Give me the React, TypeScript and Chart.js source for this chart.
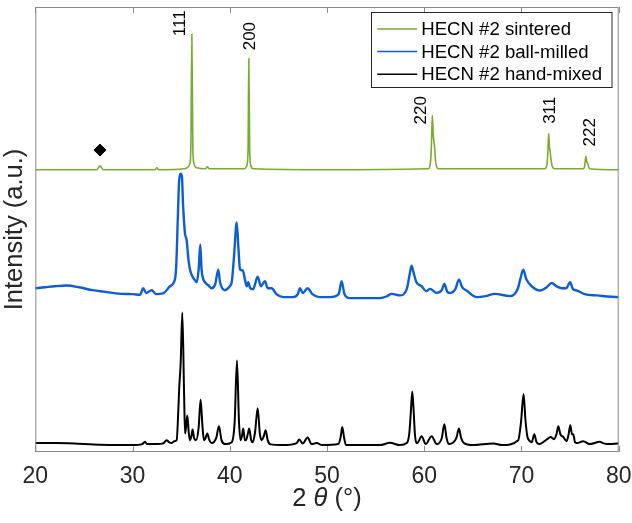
import React, { useEffect, useRef } from "react";
import { Chart, registerables } from "chart.js";

Chart.register(...registerables);

const FONT = "'Liberation Sans', Arial, Helvetica, sans-serif";

// Series labels and colours
const seriesLabels = ["HECN #2 sintered", "HECN #2 ball-milled", "HECN #2 hand-mixed"];
const seriesColors = ["#77ac30", "#0b5ed7", "#000000"];

// x tick values
const xTicks = [20, 30, 40, 50, 60, 70, 80];

// Sintered (offset already included)
const sinteredTheta = [20, 24, 26.3, 26.65, 27.0, 30, 32.3, 32.5, 32.7, 35.3, 35.6, 35.9, 36.0, 36.1, 36.2, 36.3, 36.6, 37.5, 37.7, 37.9, 41.5, 41.75, 41.88, 41.96, 42.05, 42.15, 42.4, 50, 60.4, 60.62, 60.74, 60.83, 60.92, 60.97, 61.06, 61.2, 61.5, 72.4, 72.62, 72.72, 72.8, 72.88, 72.93, 73.02, 73.15, 73.4, 76.35, 76.5, 76.62, 76.72, 76.8, 77.0, 80];
const sinteredI = [286, 286, 286, 290, 286, 286, 286, 288, 286, 287, 288, 292, 310, 423.7, 310, 293, 288, 287, 289, 287, 287, 290, 305, 398.7, 305, 291, 287, 286, 287, 292, 310, 341.3, 322, 317, 310, 292, 287, 287, 291, 305, 322.7, 308, 306.3, 298, 290, 287, 287, 290, 299.7, 294, 293, 287, 286];

// Ball-milled (offset already included)
const milledTheta = [20, 21, 22, 23.2, 24.5, 25.9, 27, 28.8, 30, 30.77, 31.1, 31.4, 31.97, 32.4, 33.2, 33.85, 34.37, 34.5, 34.65, 34.8, 34.95, 35.08, 35.2, 35.4, 35.56, 35.75, 35.9, 36.2, 36.42, 36.6, 36.8, 36.97, 37.1, 37.25, 37.45, 37.8, 38.14, 38.5, 38.82, 39.0, 39.5, 40.0, 40.2, 40.45, 40.71, 40.9, 41.05, 41.33, 41.6, 41.75, 41.9, 42.1, 42.4, 42.87, 43.2, 43.62, 43.9, 44.31, 44.8, 45.5, 46.5, 47.0, 47.22, 47.5, 48.0, 48.5, 49.2, 50.3, 51.2, 51.5, 51.8, 52.36, 53.5, 55.45, 56.2, 56.65, 57.5, 58.2, 58.5, 58.7, 58.9, 59.2, 59.73, 60.2, 60.59, 61.28, 61.8, 62.07, 62.4, 62.72, 63.2, 63.57, 63.9, 64.36, 65.4, 66.3, 67.27, 68.82, 69.6, 69.9, 70.19, 70.5, 71.05, 71.9, 72.6, 73.1, 73.6, 74.13, 74.6, 75.0, 75.3, 75.68, 76.5, 77.74, 79.96, 80];
const milledI = [166, 167, 168, 168.7, 167, 164, 162.5, 160.3, 160, 159.3, 166, 161, 164, 160, 161, 168, 175.3, 190, 235, 276, 282, 279, 250, 221, 215, 195, 185.3, 177, 174, 172, 185, 210.3, 185, 176, 172, 169, 166, 170, 184.7, 172, 164, 168, 172, 200, 232.7, 205, 185.3, 184, 173, 168, 172, 166, 165, 177.7, 168, 173, 166, 166, 160, 157, 157, 160, 166, 161, 166, 160, 157, 157, 160, 173, 160, 156, 156, 156, 158, 160.3, 158.7, 165, 180, 188.7, 182, 172, 168, 163, 165.3, 161.3, 164, 170.3, 162, 161.3, 165, 174.7, 167, 163.7, 157, 158, 160.3, 158, 165, 176, 184.7, 175, 168, 163.7, 167, 171.3, 168, 166, 166, 172, 165, 163.7, 160, 158.7, 157, 157];

// Hand-mixed
const mixedTheta = [20, 22, 24, 26, 28, 30, 31.0, 31.28, 31.5, 32.5, 33.2, 33.5, 33.75, 34.0, 34.3, 34.54, 34.7, 34.8, 34.95, 35.12, 35.3, 35.4, 35.5, 35.63, 35.78, 35.9, 36.05, 36.18, 36.33, 36.53, 36.8, 37.0, 37.2, 37.35, 37.5, 37.69, 37.9, 38.14, 38.6, 38.89, 39.15, 39.5, 40.2, 40.5, 40.74, 40.95, 41.12, 41.25, 41.39, 41.55, 41.67, 41.85, 42.0, 42.2, 42.36, 42.6, 42.87, 43.1, 43.28, 43.5, 43.69, 43.9, 44.14, 45.5, 46.88, 47.15, 47.5, 48.0, 48.42, 48.94, 49.5, 51.16, 51.4, 51.57, 51.75, 51.95, 53, 55.44, 56.48, 57.5, 58.2, 58.46, 58.62, 58.77, 58.92, 59.05, 59.28, 59.73, 60.15, 60.76, 61.28, 61.8, 62.07, 62.3, 62.55, 63.3, 63.57, 63.8, 64.09, 65, 67.1, 68, 69.67, 69.95, 70.22, 70.4, 70.6, 70.77, 71.05, 71.32, 71.55, 71.83, 72.6, 73.0, 73.34, 73.6, 73.79, 74.0, 74.3, 74.64, 74.85, 75.02, 75.2, 75.33, 75.5, 75.74, 76.36, 77, 78.07, 78.4, 78.76, 79.85, 80];
const mixedI = [9, 9, 8.5, 7.5, 7, 7, 8, 10.3, 8, 8, 9, 12, 10, 9, 11, 12, 40, 64.7, 90, 141.3, 60, 18.7, 25, 37, 20, 12, 16, 22.7, 14, 12, 25, 53, 25, 12, 14, 18.7, 12, 9, 14, 26, 12, 8, 10, 30, 92.7, 30, 12, 16, 23.7, 12, 12, 18, 23.7, 12, 10, 20, 44.3, 18, 12, 16, 22, 12, 8, 7, 9, 12.7, 8.5, 14.7, 8, 9, 7, 8, 15, 25.3, 15, 7, 7, 7, 9.3, 7, 9, 18.7, 40, 61.3, 40, 17, 9, 16, 8, 16, 8, 14, 28, 14, 8, 14, 23.7, 14, 9, 7, 8.7, 7, 12, 30, 58.7, 33.7, 16, 12, 10, 18, 10, 8, 12.7, 15.3, 13, 18, 26, 18, 15.3, 11, 18, 27, 18, 18, 10, 9, 11, 8, 10.3, 9, 8, 8.7, 9];

// Reflection labels
const hklLabels = ["111", "200", "220", "311", "222"];
const hklTheta = [34.82, 42.0, 59.58, 72.85, 76.95];
const hklI = [434.5, 421.5, 346.3, 346.3, 324];

// Impurity marker
const markerTheta = [26.65];
const markerI = [306];

const toXY = (xs: number[], ys: number[]) => xs.map((x, i) => ({ x, y: ys[i] }));

const decorPlugin = {
  id: "decor",
  afterDatasetsDraw(chart: any) {
    const { ctx, chartArea, scales } = chart;
    const xs = scales.x;
    const ys = scales.y;
    ctx.save();
    // axes box
    ctx.strokeStyle = "#8a8a8a";
    ctx.lineWidth = 1;
    ctx.strokeRect(chartArea.left + 0.5, chartArea.top + 0.5, chartArea.right - chartArea.left - 1, chartArea.bottom - chartArea.top - 1);
    // inward ticks
    ctx.beginPath();
    xTicks.forEach((t) => {
      const px = Math.round(xs.getPixelForValue(t)) + 0.5;
      ctx.moveTo(px, chartArea.bottom);
      ctx.lineTo(px, chartArea.bottom - 6);
      ctx.moveTo(px, chartArea.top);
      ctx.lineTo(px, chartArea.top + 6);
    });
    ctx.stroke();

    // hkl labels
    ctx.fillStyle = "#000";
    ctx.font = `17px ${FONT}`;
    ctx.textAlign = "center";
    ctx.textBaseline = "middle";
    hklLabels.forEach((lab, i) => {
      ctx.save();
      ctx.translate(xs.getPixelForValue(hklTheta[i]), ys.getPixelForValue(hklI[i]));
      ctx.rotate(-Math.PI / 2);
      ctx.fillText(lab, 0, 1);
      ctx.restore();
    });

    // legend
    const bw = 240.5;
    const bh = 75;
    const bx = chartArea.right - 7 - bw;
    const by = chartArea.top + 5;
    ctx.fillStyle = "#fff";
    ctx.fillRect(bx, by, bw, bh);
    ctx.strokeStyle = "#262626";
    ctx.lineWidth = 1;
    ctx.strokeRect(Math.round(bx) + 0.5, Math.round(by) + 0.5, bw, bh);
    ctx.font = `18.6px ${FONT}`;
    ctx.textAlign = "left";
    ctx.textBaseline = "middle";
    seriesLabels.forEach((lab, i) => {
      const yy = by + 17 + i * 22.6;
      ctx.strokeStyle = seriesColors[i];
      ctx.lineWidth = 1.5;
      ctx.beginPath();
      ctx.moveTo(bx + 6, yy);
      ctx.lineTo(bx + 46, yy);
      ctx.stroke();
      ctx.fillStyle = "#000";
      ctx.fillText(lab, bx + 50, yy + 1);
    });

    // x title: 2 θ (°) with italic theta
    const cx = (chartArea.left + chartArea.right) / 2;
    const ty = 499;
    const f1 = `25.5px ${FONT}`;
    const f2 = `italic 25.5px ${FONT}`;
    const parts = [
      { t: "2 ", f: f1 },
      { t: "θ", f: f2 },
      { t: " (°)", f: f1 },
    ];
    let total = 0;
    parts.forEach((p) => {
      ctx.font = p.f;
      total += ctx.measureText(p.t).width;
    });
    let x0 = cx - total / 2;
    ctx.fillStyle = "#262626";
    ctx.textBaseline = "middle";
    parts.forEach((p) => {
      ctx.font = p.f;
      ctx.fillText(p.t, x0, ty);
      x0 += ctx.measureText(p.t).width;
    });
    ctx.restore();
  },
};

export default function App() {
  const ref = useRef<HTMLCanvasElement | null>(null);
  useEffect(() => {
    document.body.style.margin = "0";
    if (!ref.current) return;
    Chart.defaults.font.family = FONT;
    const lineBase = {
      pointRadius: 0,
      cubicInterpolationMode: "monotone" as const,
    };
    const chart = new Chart(ref.current, {
      type: "line",
      data: {
        datasets: [
          {
            ...lineBase,
            label: seriesLabels[0],
            data: toXY(sinteredTheta, sinteredI),
            borderColor: seriesColors[0],
            borderWidth: 1.6,
          },
          {
            ...lineBase,
            label: seriesLabels[1],
            data: toXY(milledTheta, milledI),
            borderColor: seriesColors[1],
            borderWidth: 2.4,
          },
          {
            ...lineBase,
            label: seriesLabels[2],
            data: toXY(mixedTheta, mixedI),
            borderColor: seriesColors[2],
            borderWidth: 2,
          },
          {
            label: "marker",
            data: toXY(markerTheta, markerI),
            showLine: false,
            pointStyle: "rectRot",
            pointRadius: 6,
            backgroundColor: "#000",
            borderColor: "#000",
          },
        ],
      },
      options: {
        animation: false,
        responsive: false,
        devicePixelRatio: 1,
        layout: { padding: { top: 1, right: 13.3, left: 0, bottom: 0 } },
        plugins: { legend: { display: false }, tooltip: { enabled: false } },
        scales: {
          x: {
            type: "linear",
            min: 20,
            max: 80,
            grid: { display: false, drawTicks: true, tickLength: 11 },
            border: { display: false },
            ticks: {
              stepSize: 10,
              color: "#262626",
              font: { size: 23, family: FONT },
              padding: 0,
              maxRotation: 0,
            },
            afterFit: (s: any) => {
              s.height = 71;
            },
          },
          y: {
            min: 0,
            max: 451,
            grid: { display: false, drawTicks: false },
            border: { display: false },
            ticks: { display: false },
            title: {
              display: true,
              text: "Intensity (a.u.)",
              color: "#262626",
              font: { size: 25.5, family: FONT },
              padding: { top: 0, bottom: 0 },
            },
            afterFit: (s: any) => {
              s.width = 35.3;
            },
          },
        },
      },
      plugins: [decorPlugin],
    });
    return () => chart.destroy();
  }, []);
  return (
    <div style={{ width: 632, height: 523 }}>
      <canvas ref={ref} width={632} height={523} />
    </div>
  );
}
